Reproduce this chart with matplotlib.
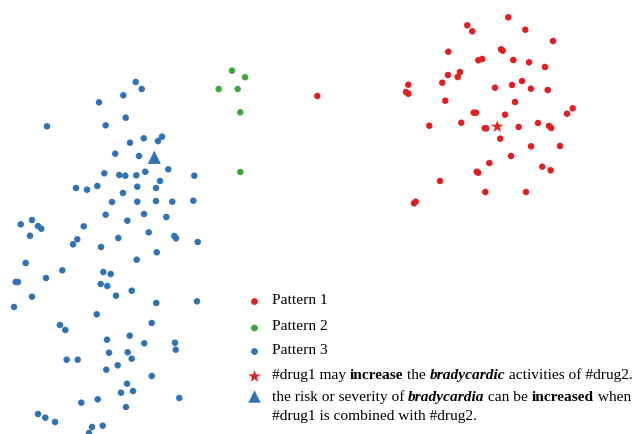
"""Embedding scatter of three interaction patterns with legend annotations."""
import matplotlib
matplotlib.use('Agg')
import matplotlib.pyplot as plt

RED = '#e31e1e'
GREEN = '#3aa83a'
BLUE = '#2f73b5'

# 2-D embedding coordinates (y grows downward)
p1_x = [508.3, 467.3, 472.3, 525.3, 553, 448.3, 501, 502.7, 478.3, 482.3, 513.3,
        529, 545, 448, 460, 457.7, 442.3, 408.3, 406, 408.3, 495, 512, 522, 531,
        547.7, 445.3, 515, 473.7, 476, 505, 572.7, 567, 429.3, 461.3, 484.7, 486.3,
        518.7, 538, 549, 551.3, 500.3, 531, 560, 511, 489.3, 542.3, 550.7, 476.7,
        478.3, 440, 485.3, 526, 415.7, 414, 317.3]
p1_y = [17.3, 25.3, 31.3, 29.7, 41, 51.7, 49.3, 50.7, 60.3, 59, 60, 62.3, 67, 75,
        72, 77, 82.7, 84.7, 92, 93.7, 87.7, 85, 81, 88.7, 90, 100.7, 102, 112.7,
        112.7, 114.7, 108.3, 113.7, 125.7, 122.7, 128.3, 128.3, 127, 123, 126, 128,
        138.7, 146.3, 146, 156, 163, 166.7, 170.3, 171.7, 172.7, 181, 192, 192,
        201.7, 203.3, 96]

p2_x = [232, 245, 218.7, 237.7, 240.3, 240.3]
p2_y = [70.7, 77.3, 89, 89, 112.3, 172]

p3_x = [135.7, 141.7, 123.3, 99, 47, 105.7, 125.7, 130, 143.7, 158, 162, 115.3,
        139, 168.3, 104.3, 119.3, 125.3, 136.3, 145.3, 194.3, 160, 76, 87, 97.3,
        137.3, 156, 123, 112, 137.3, 156, 172.3, 193.3, 105.7, 144, 166.3, 20.7,
        32, 38, 41.3, 30, 83.7, 127.3, 148.7, 174.3, 176, 197.7, 118.3, 77.3, 73,
        101, 156.7, 136.7, 25.7, 62.3, 46, 103.3, 110.7, 15.7, 18, 100.7, 107.3,
        131.7, 116, 32, 156.3, 197, 14, 96.7, 60, 65.3, 151.7, 107, 129.7, 144.3,
        175, 175.7, 109, 127.7, 131.7, 66.7, 77.7, 106.3, 117.7, 151.7, 127, 121,
        133, 81.3, 97.7, 179.3, 126, 38, 45.3, 55, 92, 102.7, 89]
p3_y = [82, 89, 95.3, 102.3, 126.3, 125.3, 117.7, 142.7, 138.3, 141, 136.7, 153.7,
        156, 169.3, 173.3, 175, 175.7, 175.3, 171.7, 175.7, 181, 188, 189.7, 186,
        186.7, 188, 193, 202, 201.7, 201, 201.7, 200.7, 214.7, 214, 217, 224.3,
        220, 226, 228.7, 235.7, 226.3, 220.7, 232.3, 236, 238.3, 242, 238, 239.3,
        244.3, 247, 252.3, 259.7, 263, 270.3, 278, 272, 274, 282, 282, 284, 286,
        290.7, 295.7, 296.7, 303, 301.3, 307, 314.3, 325, 330, 323, 339.7, 335.7,
        343.3, 342.7, 349.7, 352.7, 352.3, 358.7, 359.7, 359.7, 369.7, 365.3, 376,
        383.7, 392.7, 391, 402.7, 399.3, 398, 407, 414, 417.7, 422, 427, 425.7, 433]

# highlighted example pairs
star_xy = (497.3, 126.7)
tri_xy = (154.3, 157.3)

fig = plt.figure(figsize=(6.34, 4.34), dpi=100)
ax = fig.add_axes([0, 0, 1, 1])
ax.set_xlim(0, 634)
ax.set_ylim(434, 0)
ax.axis('off')

ax.scatter(p1_x, p1_y, s=22, color=RED, edgecolors='none', zorder=3)
ax.scatter(p2_x, p2_y, s=22, color=GREEN, edgecolors='none', zorder=3)
ax.scatter(p3_x, p3_y, s=22, color=BLUE, edgecolors='none', zorder=3)
ax.scatter(*star_xy, s=90, marker='*', color=RED, edgecolors='none', zorder=4)
ax.scatter(*tri_xy, s=90, marker='^', color=BLUE, edgecolors='none', zorder=4)

# legend, built by hand
FONT = 'Liberation Serif'
FS = 11.1
mx, tx = 254.5, 271.5
ax.scatter([mx], [301.5], s=24, color=RED, edgecolors='none')
ax.scatter([mx], [328], s=24, color=GREEN, edgecolors='none')
ax.scatter([mx], [351.5], s=24, color=BLUE, edgecolors='none')
ax.scatter([mx], [376.5], s=90, marker='*', color=RED, edgecolors='none')
ax.scatter([mx], [396.5], s=80, marker='^', color=BLUE, edgecolors='none')

for y, lab in [(301, 'Pattern 1'), (326.5, 'Pattern 2'), (350.5, 'Pattern 3')]:
    ax.text(tx, y, lab, family=FONT, fontsize=FS, va='center', ha='left')


def runs(x, y, parts):
    """Draw a line of text made of differently styled runs."""
    prev = None
    for s, weight, style in parts:
        kw = dict(family=FONT, fontsize=FS, fontweight=weight, fontstyle=style)
        if prev is None:
            prev = ax.text(x, y, s, va='center', ha='left', **kw)
        else:
            prev = ax.annotate(s, xy=(1, 0), xycoords=prev, va='bottom',
                               ha='left', **kw)


runs(tx, 375.5, [('#drug1 may ', 'normal', 'normal'),
                 ('increase', 'bold', 'normal'),
                 (' the ', 'normal', 'normal'),
                 ('bradycardic', 'bold', 'italic'),
                 (' activities of #drug2.', 'normal', 'normal')])
runs(tx, 397, [('the risk or severity of ', 'normal', 'normal'),
               ('bradycardia', 'bold', 'italic'),
               (' can be ', 'normal', 'normal'),
               ('increased', 'bold', 'normal'),
               (' when', 'normal', 'normal')])
ax.text(tx, 416.5, '#drug1 is combined with #drug2.', family=FONT, fontsize=FS,
        va='center', ha='left')

fig.savefig('out.png', dpi=100)
